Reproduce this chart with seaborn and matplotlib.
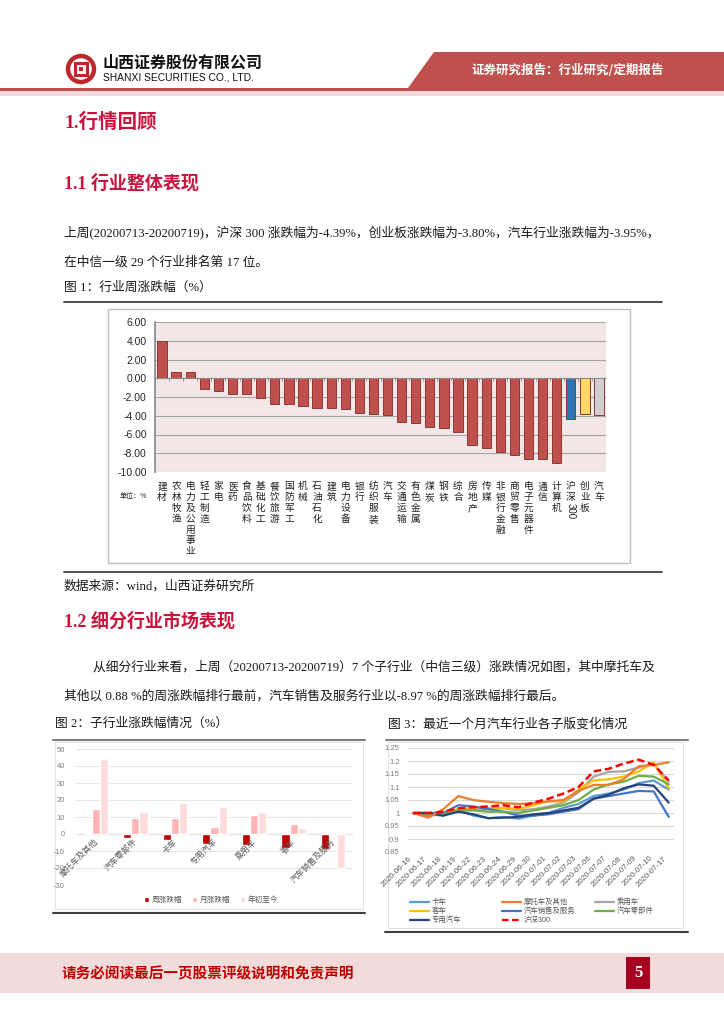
import numpy as np
import pandas as pd
import seaborn as sns
import matplotlib.pyplot as plt
from matplotlib.patches import Rectangle, Polygon, Circle
from matplotlib.ticker import FuncFormatter

sns.set_theme(style="white")
plt.rcParams['font.family'] = ['Liberation Serif', 'Noto Sans CJK SC', 'DejaVu Sans']
plt.rcParams['axes.unicode_minus'] = False

# ---------------- data ----------------
# Fig 1: weekly change by CITIC level-1 industry (%)
industries = ['建材', '农林牧渔', '电力及公用事业', '轻工制造', '家电', '医药', '食品饮料',
              '基础化工', '餐饮旅游', '国防军工', '机械', '石油石化', '建筑', '电力设备',
              '银行', '纺织服装', '汽车', '交通运输', '有色金属', '煤炭', '钢铁', '综合',
              '房地产', '传媒', '非银行金融', '商贸零售', '电子元器件', '通信', '计算机',
              '沪深300', '创业板', '汽车']
weekly_chg = [3.95, 0.62, 0.62, -1.10, -1.38, -1.72, -1.72, -2.08, -2.72, -2.72, -2.98,
              -3.12, -3.22, -3.30, -3.75, -3.82, -3.95, -4.70, -4.82, -5.25, -5.32, -5.72,
              -7.12, -7.40, -7.90, -8.15, -8.65, -8.65, -9.00, -4.39, -3.80, -3.95]
bar_colors = ['#C0504D'] * 29 + ['#2E75B6', '#FFD966', '#D0CECE']

# Fig 2: sub-industries (%)
sub_inds = ['摩托车及其他', '汽车零部件', '卡车', '专用汽车', '乘用车', '客车', '汽车销售及服务']
week_sub = [0.88, -2.2, -3.3, -6.1, -6.3, -8.3, -8.97]
month_sub = [14.9, 9.6, 9.4, 4.1, 11.2, 6.1, 0.4]
ytd_sub = [44.0, 13.2, 18.1, 15.9, 13.2, 3.3, -20.0]
sub_series = ['周涨跌幅', '月涨跌幅', '年初至今']
sub_colors = ['#C00000', '#FFB5B5', '#FFDCDC']

# Fig 3: normalised index, last month
dates = ['2020-06-16', '2020-06-17', '2020-06-18', '2020-06-19', '2020-06-22', '2020-06-23',
         '2020-06-24', '2020-06-29', '2020-06-30', '2020-07-01', '2020-07-02', '2020-07-03',
         '2020-07-06', '2020-07-07', '2020-07-08', '2020-07-09', '2020-07-10', '2020-07-17']
truck = [1.0, 0.995, 0.99, 1.01, 0.99, 0.98, 0.985, 0.978, 0.99, 1.0, 1.02, 1.035,
         1.065, 1.075, 1.09, 1.115, 1.125, 1.09]
moto = [1.0, 0.982, 1.015, 1.065, 1.05, 1.043, 1.038, 1.035, 1.038, 1.045, 1.05, 1.085,
        1.108, 1.108, 1.13, 1.18, 1.185, 1.195]
passenger = [1.0, 1.0, 0.995, 1.015, 1.015, 1.015, 1.018, 1.01, 1.015, 1.025, 1.04, 1.08,
             1.14, 1.158, 1.16, 1.175, 1.19, 1.12]
bus = [1.0, 0.995, 1.0, 1.015, 1.02, 1.02, 1.02, 1.015, 1.03, 1.045, 1.045, 1.09,
       1.125, 1.13, 1.14, 1.16, 1.195, 1.095]
sales = [1.0, 1.0, 1.0, 1.03, 1.025, 1.015, 1.005, 0.99, 0.99, 0.995, 1.005, 1.015,
         1.055, 1.065, 1.075, 1.085, 1.083, 0.985]
parts = [1.0, 0.99, 0.995, 1.01, 1.01, 1.005, 1.005, 1.0, 1.01, 1.02, 1.03, 1.05,
         1.09, 1.11, 1.12, 1.143, 1.14, 1.11]
special = [1.0, 1.0, 0.99, 1.005, 0.995, 0.98, 0.982, 0.985, 0.995, 1.0, 1.01, 1.02,
           1.055, 1.07, 1.095, 1.11, 1.105, 1.04]
hs300 = [1.0, 1.0, 1.005, 1.018, 1.022, 1.025, 1.03, 1.022, 1.04, 1.055, 1.075, 1.10,
         1.16, 1.17, 1.19, 1.205, 1.185, 1.125]
line_names = ['卡车', '摩托车及其他', '乘用车', '客车', '汽车销售及服务', '汽车零部件', '专用汽车', '沪深300']
line_data = [truck, moto, passenger, bus, sales, parts, special, hs300]
line_colors = ['#5B9BD5', '#ED7D31', '#A5A5A5', '#FFC000', '#4472C4', '#70AD47', '#264478', '#FF0000']

# ---------------- page layout (pixel coords, origin top-left) ----------------
W, H = 724, 1024
fig = plt.figure(figsize=(W / 100, H / 100), dpi=100)
bg = fig.add_axes([0, 0, 1, 1])
bg.set_xlim(0, W)
bg.set_ylim(H, 0)
bg.axis('off')


def rect(x0, y0, x1, y1):
    return [x0 / W, 1 - y1 / H, (x1 - x0) / W, (y1 - y0) / H]


RED = '#C8143C'
TXT = '#1A1A1A'
FS = 9.2

# header
bg.add_patch(Polygon([(434, 52), (724, 52), (724, 88), (408, 88)], closed=True, color='#C0504D', lw=0))
bg.text(568, 71, '证券研究报告：行业研究/定期报告', color='white', fontsize=9, fontweight='bold',
        ha='center', va='center', family=['Noto Sans CJK SC'])
bg.add_patch(Rectangle((0, 88), W, 3, color='#C0504D', lw=0))
bg.add_patch(Rectangle((0, 91), W, 5, color='#F3D9D9', lw=0))
bg.add_patch(Circle((81, 69), 13, fill=False, ec='#C0272D', lw=3.2))
bg.add_patch(Rectangle((75, 63), 12, 12, fill=False, ec='#C0272D', lw=2.2))
bg.add_patch(Rectangle((79, 67), 4, 4, color='#C0272D', lw=0))
bg.text(103, 63, '山西证券股份有限公司', fontsize=11.5, fontweight='bold', color='#111111',
        va='center', family=['Noto Sans CJK SC'])
bg.text(103, 78, 'SHANXI SECURITIES CO., LTD.', fontsize=7.4, color='#111111', va='center',
        family=['Liberation Sans'])

# headings and body
bg.text(64, 122, '1.行情回顾', fontsize=14, fontweight='bold', color=RED, va='center')
bg.text(64, 183, '1.1 行业整体表现', fontsize=13, fontweight='bold', color=RED, va='center')
bg.text(64, 232, '上周(20200713-20200719)，沪深 300 涨跌幅为-4.39%，创业板涨跌幅为-3.80%，汽车行业涨跌幅为-3.95%，',
        fontsize=FS, color=TXT, va='center')
bg.text(64, 262, '在中信一级 29 个行业排名第 17 位。', fontsize=FS, color=TXT, va='center')
bg.text(64, 288, '图 1：行业周涨跌幅（%）', fontsize=FS, color=TXT, va='center')
bg.plot([64, 662], [302, 302], color='#404040', lw=1.3)
bg.add_patch(Rectangle((108, 309), 522, 254, fill=False, ec='#BFBFBF', lw=1))
bg.plot([64, 662], [572, 572], color='#404040', lw=1.3)
bg.text(64, 586, '数据来源：wind，山西证券研究所', fontsize=FS, color=TXT, va='center')
bg.text(64, 621, '1.2 细分行业市场表现', fontsize=13, fontweight='bold', color=RED, va='center')
bg.text(93, 667, '从细分行业来看，上周（20200713-20200719）7 个子行业（中信三级）涨跌情况如图，其中摩托车及',
        fontsize=FS, color=TXT, va='center')
bg.text(64, 696, '其他以 0.88 %的周涨跌幅排行最前，汽车销售及服务行业以-8.97 %的周涨跌幅排行最后。',
        fontsize=FS, color=TXT, va='center')
bg.text(55, 724, '图 2：子行业涨跌幅情况（%）', fontsize=FS, color=TXT, va='center')
bg.text(388, 724, '图 3：最近一个月汽车行业各子版变化情况', fontsize=FS, color=TXT, va='center')

# boxes for fig 2 / fig 3
bg.plot([53, 365], [740, 740], color='#7F7F7F', lw=1.5)
bg.add_patch(Rectangle((55, 742), 308, 167, fill=False, ec='#E3E3E3', lw=0.8))
bg.plot([53, 365], [913, 913], color='#404040', lw=1.5)
bg.plot([386, 688], [740, 740], color='#7F7F7F', lw=1.5)
bg.add_patch(Rectangle((388, 742), 295, 186, fill=False, ec='#E3E3E3', lw=0.8))
bg.plot([385, 688], [932, 932], color='#404040', lw=1.5)

# footer
bg.add_patch(Rectangle((0, 953), W, 40, color='#F2DCDB', lw=0))
bg.text(62, 973, '请务必阅读最后一页股票评级说明和免责声明', fontsize=10.5, fontweight='bold',
        color='#C00000', va='center', family=['Noto Sans CJK SC'])
bg.add_patch(Rectangle((626, 957), 24, 32, color='#A50021', lw=0))
bg.text(638, 973, '5', fontsize=12, fontweight='bold', color='white', ha='center', va='center')

# ---------------- Fig 1 ----------------
df1 = pd.DataFrame({'key': np.arange(len(industries)), 'value': weekly_chg})
ax1 = fig.add_axes(rect(155, 322, 606, 472))
sns.barplot(data=df1, x='key', y='value', hue='key', palette=bar_colors, legend=False,
            width=0.66, saturation=1, edgecolor='#8C3836', linewidth=0.7, ax=ax1)
ax1.set_facecolor('#F2E6E6')
ax1.set_ylim(-10, 6)
ax1.set_xlim(-0.5, len(industries) - 0.5)
ax1.set_yticks(np.arange(-10, 6.1, 2))
ax1.set_yticklabels([f'{v:.2f}' for v in np.arange(-10, 6.1, 2)], family=['Liberation Sans'], fontsize=7.5)
ax1.yaxis.grid(True, color='#A6A6A6', lw=0.8)
ax1.set_axisbelow(True)
ax1.axhline(0, color='#8C8C8C', lw=0.8)
ax1.vlines(np.arange(len(industries) + 1) - 0.5, -0.25, 0, color='#8C8C8C', lw=0.6)
ax1.tick_params(axis='y', length=3, color='#8C8C8C', pad=3)
ax1.set_xticks([])
ax1.set_xlabel('')
ax1.set_ylabel('')
for s in ['top', 'right', 'bottom']:
    ax1.spines[s].set_visible(False)
ax1.spines['left'].set_color('#8C8C8C')
for i, name in enumerate(industries):
    if name == '沪深300':
        ax1.text(i, -11.0, '沪\n深', ha='center', va='top', fontsize=7, linespacing=1.1,
                 color='#222222', family=['Noto Sans CJK SC'])
        ax1.text(i, -13.3, '300', ha='center', va='top', fontsize=7, rotation=-90,
                 color='#222222', family=['Liberation Sans'])
    else:
        ax1.text(i, -11.0, '\n'.join(name), ha='center', va='top', fontsize=7, linespacing=1.1,
                 color='#222222', family=['Noto Sans CJK SC'])
ax1.text(-3.0, -12.8, '单位：%', fontsize=5, color='#222222', family=['Noto Sans CJK SC'])

# ---------------- Fig 2 ----------------
df2 = pd.DataFrame({
    'cat': np.repeat(sub_inds, 3),
    'series': sub_series * len(sub_inds),
    'value': np.column_stack([week_sub, month_sub, ytd_sub]).ravel(),
})
ax2 = fig.add_axes(rect(76, 749, 353, 885))
sns.barplot(data=df2, x='cat', y='value', hue='series', order=sub_inds, hue_order=sub_series,
            palette=sub_colors, width=0.62, gap=0, saturation=1, ax=ax2)
ax2.set_ylim(-30, 50)
ax2.set_xlim(-0.5, len(sub_inds) - 0.5)
ax2.set_yticks(np.arange(-30, 51, 10))
ax2.tick_params(axis='y', labelsize=5.5, labelcolor='#7F7F7F', length=0, pad=8)
ax2.yaxis.grid(True, color='#E6E6E6', lw=0.8)
ax2.set_axisbelow(True)
ax2.axhline(0, color='#D9D9D9', lw=0.9, zorder=0.5)
ax2.set_xticks([])
ax2.set_xlabel('')
ax2.set_ylabel('')
sns.despine(ax=ax2, left=True, bottom=True)
for tl in ax2.get_yticklabels():
    tl.set_family(['Liberation Sans'])
for i, name in enumerate(sub_inds):
    ax2.text(i + 0.1, -1.8, name, rotation=45, ha='right', va='top', fontsize=6,
             color='#595959', family=['Noto Sans CJK SC'])
ax2.legend(loc='center', bbox_to_anchor=(211 / W, 1 - 900 / H), bbox_transform=fig.transFigure,
           ncol=3, frameon=False, fontsize=5.5, handlelength=0.7, handleheight=0.7,
           handletextpad=0.3, columnspacing=1.3, labelcolor='#595959')

# ---------------- Fig 3 ----------------
ax3 = fig.add_axes(rect(408, 748, 674, 852))
x_idx = np.arange(len(dates))
for name, vals, col in zip(line_names, line_data, line_colors):
    if name == '沪深300':
        sns.lineplot(x=x_idx, y=vals, color=col, lw=1.8, linestyle=(0, (3, 1.5)), ax=ax3, zorder=5)
    else:
        sns.lineplot(x=x_idx, y=vals, color=col, lw=1.6, ax=ax3, zorder=3 if name == '摩托车及其他' else 2)
ax3.set_ylim(0.85, 1.25)
ax3.set_xlim(-0.35, len(dates) - 0.65)
ax3.set_yticks(np.arange(0.85, 1.251, 0.05))
ax3.yaxis.set_major_formatter(FuncFormatter(lambda v, p: f'{v:g}'))
ax3.tick_params(axis='y', labelsize=5.5, labelcolor='#7F7F7F', length=0, pad=6)
ax3.yaxis.grid(True, color='#D9D9D9', lw=0.8)
ax3.set_xticks(x_idx)
ax3.set_xticklabels(dates, rotation=45, ha='right', fontsize=5.7, color='#595959')
ax3.tick_params(axis='x', length=0, pad=2)
for tl in ax3.get_xticklabels() + ax3.get_yticklabels():
    tl.set_family(['Liberation Sans'])
sns.despine(ax=ax3, left=True, bottom=True)

# legend of fig 3, 3 equal-width columns like the source
leg_cols = [410, 502, 595]
leg_rows = [902, 911, 920]
for k, (name, col) in enumerate(zip(line_names, line_colors)):
    lx = leg_cols[k % 3]
    ly = leg_rows[k // 3]
    ls = (0, (3, 1.5)) if name == '沪深300' else '-'
    bg.plot([lx, lx + 19], [ly, ly], color=col, lw=1.6, linestyle=ls)
    bg.text(lx + 22, ly, name, fontsize=5.3, color='#595959', va='center',
            family=['Liberation Sans', 'Noto Sans CJK SC'])

fig.savefig('out.png', dpi=100)
